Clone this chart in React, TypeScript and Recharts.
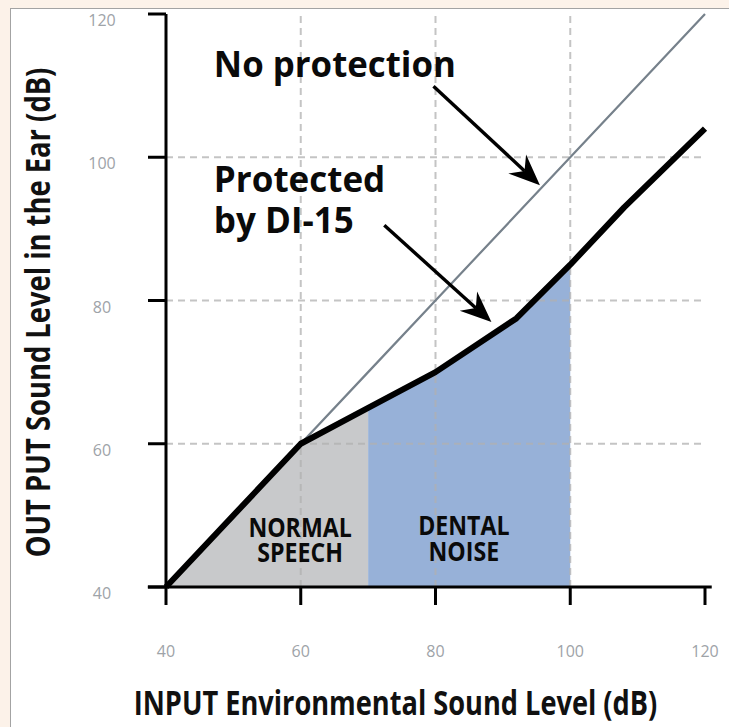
import React from 'react';
import { ComposedChart, Area, Line, XAxis, YAxis, ReferenceLine, ReferenceDot } from 'recharts';

// ---- data ----
const inputLevels = [40, 60, 70, 80, 92, 100, 108, 120];
const protectedLevels = [40, 60, 65, 70, 77.5, 85, 93, 104];
const unprotectedLevels = [40, 60, 70, 80, 92, 100, 108, 120];
const speechRange = [40, 70];
const noiseRange = [70, 100];
const xTicks = [40, 60, 80, 100, 120];
const yTicks = [40, 60, 80, 100, 120];
const gridValues = [60, 80, 100];

const data = inputLevels.map((x, i) => ({
  input: x,
  protectedLevel: protectedLevels[i],
  unprotectedLevel: unprotectedLevels[i],
  speech: x >= speechRange[0] && x <= speechRange[1] ? protectedLevels[i] : null,
  noise: x >= noiseRange[0] && x <= noiseRange[1] ? protectedLevels[i] : null,
}));

// ---- annotations (anchored in data coordinates) ----
const calloutLines = [
  ['No protection'],
  ['Protected', 'by DI-15'],
  ['NORMAL', 'SPEECH'],
  ['DENTAL', 'NOISE'],
];
const calloutAnchors = [
  { x: 47.1, y: 111.25 },
  { x: 47.1, y: 95.2 },
  { x: 59.9, y: 47.0 },
  { x: 84.2, y: 47.2 },
];
const calloutStyles = [
  { size: 35, sx: 0.995, gap: 0, anchor: 'start' },
  { size: 35, sx: 1.0, gap: 41.6, anchor: 'start' },
  { size: 26, sx: 0.89, gap: 25.5, anchor: 'middle' },
  { size: 26, sx: 0.89, gap: 25.5, anchor: 'middle' },
];
const arrowFrom = [[79.7, 109.9], [72.4, 90.5]];
const arrowTo = [[95.5, 96.1], [88.3, 77.0]];

const FONT = '"Open Sans", "Noto Sans", sans-serif';
const TICK_GRAY = '#9ea3a8';

const XTick = (props: any) => {
  const { x, y, payload } = props;
  return (
    <text x={x} y={y + 46} textAnchor="middle" dominantBaseline="central" fill={TICK_GRAY}
      fontFamily={FONT} fontSize={16}>{payload.value}</text>
  );
};

const YTick = (props: any) => {
  const { x, y, payload } = props;
  return (
    <text x={x - 46} y={y + 6} textAnchor="middle" dominantBaseline="central" fill={TICK_GRAY}
      fontFamily={FONT} fontSize={16}>{payload.value}</text>
  );
};

const ArrowShape = (props: any) => {
  const { x1, y1, x2, y2 } = props;
  const dx = x2 - x1;
  const dy = y2 - y1;
  const len = Math.sqrt(dx * dx + dy * dy) || 1;
  const ux = dx / len;
  const uy = dy / len;
  const px = -uy;
  const py = ux;
  const headLen = 31;
  const halfW = 13;
  const notch = 10;
  const bx = x2 - ux * headLen;
  const by = y2 - uy * headLen;
  const nx = x2 - ux * (headLen - notch);
  const ny = y2 - uy * (headLen - notch);
  const pts = [
    [x2, y2],
    [bx + px * halfW, by + py * halfW],
    [nx, ny],
    [bx - px * halfW, by - py * halfW],
  ].map((p) => p.join(',')).join(' ');
  return (
    <g>
      <line x1={x1} y1={y1} x2={nx} y2={ny} stroke="#000" strokeWidth={3.4} />
      <polygon points={pts} fill="#000" />
    </g>
  );
};

const makeTextShape = (lines: string[], st: any) => (props: any) => {
  const { cx, cy } = props;
  return (
    <g transform={`translate(${cx}, ${cy}) scale(${st.sx}, 1)`}>
      <text x={0} y={0} textAnchor={st.anchor} fontFamily={FONT} fontWeight={700}
        fontSize={st.size} fill="#0a0a0a">
        {lines.map((ln, i) => (
          <tspan key={i} x={0} dy={i === 0 ? 0 : st.gap}>{ln}</tspan>
        ))}
      </text>
    </g>
  );
};

const XTitle = (props: any) => {
  const vb = props.viewBox || { x: 166, y: 587, width: 539, height: 140 };
  const cx = vb.x + vb.width / 2 - 40;
  const cy = vb.y + 128;
  return (
    <g transform={`translate(${cx}, ${cy}) scale(0.8, 1)`}>
      <text x={0} y={0} textAnchor="middle" fontFamily={FONT} fontWeight={700} fontSize={34} fill="#111">
        INPUT Environmental Sound Level (dB)
      </text>
    </g>
  );
};

const YTitle = (props: any) => {
  const vb = props.viewBox || { x: 0, y: 14, width: 166, height: 573 };
  const cx = vb.x + 50;
  const cy = vb.y + vb.height / 2 + 12;
  return (
    <g transform={`translate(${cx}, ${cy}) rotate(-90) scale(0.805, 1)`}>
      <text x={0} y={0} textAnchor="middle" fontFamily={FONT} fontWeight={700} fontSize={34} fill="#111">
        OUT PUT Sound Level in the Ear (dB)
      </text>
    </g>
  );
};

export default function App() {
  return (
    <div style={{ position: 'absolute', left: 0, top: 0, width: 729, height: 727, background: '#fcf2e9', overflow: 'hidden' }}>
      <div style={{ position: 'absolute', left: 10, top: 8, width: 740, height: 740, background: '#ffffff', border: '1px solid #a3a3a3' }} />
      <div style={{ position: 'absolute', left: 0, top: 0 }}>
        <ComposedChart width={729} height={727} data={data} margin={{ top: 14, right: 24, bottom: 0, left: 0 }}>
          <XAxis dataKey="input" type="number" domain={[40, 120]} ticks={xTicks} height={140}
            axisLine={false} tickLine={{ stroke: '#000', strokeWidth: 3 }} tickSize={18} tickMargin={0}
            tick={XTick} interval={0} label={XTitle} />
          <YAxis type="number" domain={[40, 120]} ticks={yTicks} width={166}
            axisLine={{ stroke: '#000', strokeWidth: 3 }} tickLine={{ stroke: '#000', strokeWidth: 3 }}
            tickSize={18} tickMargin={0} tick={YTick} interval={0} label={YTitle} />
          <Area dataKey="speech" type="linear" fill="#c8c9cb" fillOpacity={1} stroke="none" isAnimationActive={false} dot={false} activeDot={false} />
          <Area dataKey="noise" type="linear" fill="#97b1d8" fillOpacity={1} stroke="none" isAnimationActive={false} dot={false} activeDot={false} />
          {gridValues.map((v) => (
            <ReferenceLine key={'h' + v} y={v} stroke="#b0b0b0" strokeOpacity={0.75} strokeWidth={2} strokeDasharray="7 5" />
          ))}
          {gridValues.map((v) => (
            <ReferenceLine key={'v' + v} x={v} stroke="#b0b0b0" strokeOpacity={0.75} strokeWidth={2} strokeDasharray="7 5" />
          ))}
          <ReferenceLine segment={[{ x: 37.3, y: 40 }, { x: 121, y: 40 }]} stroke="#000" strokeWidth={3} ifOverflow="visible" />
          <Line dataKey="unprotectedLevel" type="linear" stroke="#76818b" strokeWidth={2.2} dot={false} activeDot={false} isAnimationActive={false} />
          <Line dataKey="protectedLevel" type="linear" stroke="#000" strokeWidth={6} strokeLinejoin="round" dot={false} activeDot={false} isAnimationActive={false} />
          {arrowFrom.map((f, i) => (
            <ReferenceLine key={'a' + i} segment={[{ x: f[0], y: f[1] }, { x: arrowTo[i][0], y: arrowTo[i][1] }]}
              shape={ArrowShape} ifOverflow="visible" />
          ))}
          {calloutLines.map((lines, i) => (
            <ReferenceDot key={'t' + i} x={calloutAnchors[i].x} y={calloutAnchors[i].y} r={0} ifOverflow="visible"
              shape={makeTextShape(lines, calloutStyles[i])} />
          ))}
        </ComposedChart>
      </div>
    </div>
  );
}
